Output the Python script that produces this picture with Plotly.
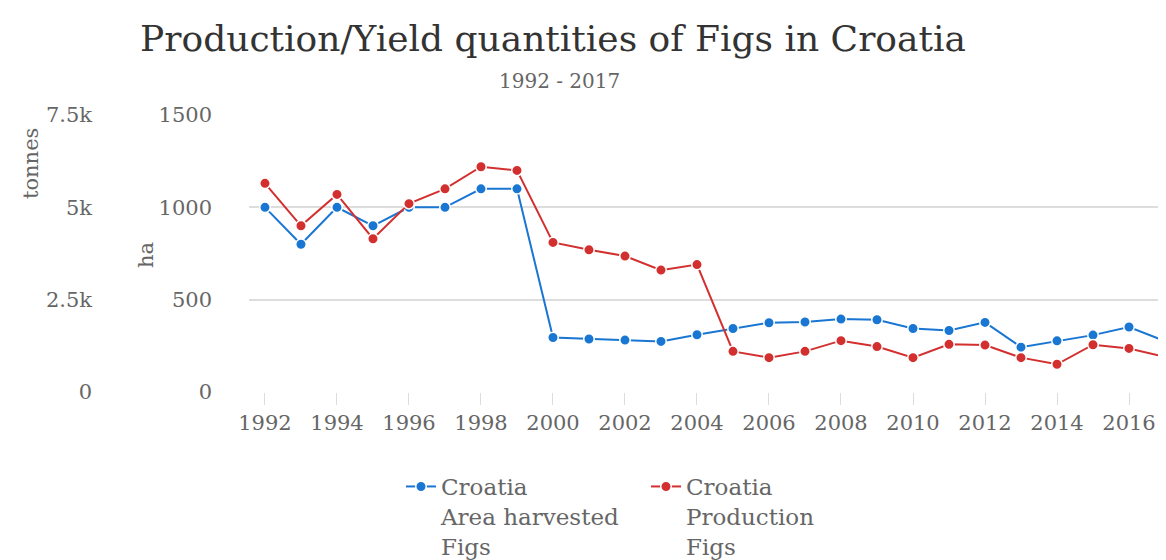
import plotly.graph_objects as go

years = list(range(1992, 2018))
area_harvested_ha = [1000, 800, 1000, 900, 1000, 1000, 1100, 1100, 295, 287, 281, 274, 310, 344,
                     375, 379, 395, 391, 344, 333, 377, 243, 277, 308, 352, 276]
production_t = [5650, 4500, 5350, 4150, 5100, 5500, 6100, 6000, 4050, 3850, 3680, 3300, 3450, 1100,
                930, 1100, 1390, 1230, 930, 1290, 1270, 930, 750, 1280, 1180, 950]

blue = "#1976D2"
red = "#D32F2F"
font_fam = "DejaVu Serif"
W, H = 1166, 560
grey = "#666666"

fig = go.Figure()
fig.add_trace(go.Scatter(
    x=years, y=area_harvested_ha, name="Croatia<br>Area harvested<br>Figs",
    mode="lines+markers", yaxis="y", cliponaxis=False,
    line=dict(color=blue, width=2),
    marker=dict(color=blue, size=10.5, line=dict(color="white", width=1.5)),
))
fig.add_trace(go.Scatter(
    x=years, y=production_t, name="Croatia<br>Production<br>Figs",
    mode="lines+markers", yaxis="y2", cliponaxis=False,
    line=dict(color=red, width=2),
    marker=dict(color=red, size=10.5, line=dict(color="white", width=1.5)),
))

fig.update_layout(
    width=W, height=H,
    margin=dict(l=0, r=0, t=107, b=176, autoexpand=False),
    paper_bgcolor="white", plot_bgcolor="white",
    font=dict(family=font_fam, color=grey, size=21),
    title=dict(text="Production/Yield quantities of Figs in Croatia",
               font=dict(family=font_fam, size=36, color="#333333"),
               x=545 / W, xanchor="center", xref="container",
               y=1 - 30 / H, yanchor="middle", yref="container", automargin=False),
    annotations=[
        dict(text="1992 - 2017", xref="paper", yref="paper",
             x=551 / W, y=1 + (107 - 73) / 277, showarrow=False,
             font=dict(family=font_fam, size=20, color=grey),
             xanchor="center", yanchor="middle"),
        dict(text="tonnes", xref="paper", yref="paper", textangle=-90,
             x=23 / W, y=(384 - 156) / 277, showarrow=False,
             font=dict(family=font_fam, size=21, color=grey),
             xanchor="center", yanchor="middle"),
        dict(text="ha", xref="paper", yref="paper", textangle=-90,
             x=138 / W, y=(384 - 247) / 277, showarrow=False,
             font=dict(family=font_fam, size=21, color=grey),
             xanchor="center", yanchor="middle"),
    ],
    xaxis=dict(domain=[241 / W, 1], range=[1991.556, 2017.25], dtick=2, tick0=1992,
               showgrid=False, zeroline=False, showline=False, automargin=False,
               ticks="outside", ticklen=12, tickcolor="#dddddd", tickwidth=1,
               tickfont=dict(size=21, color=grey)),
    yaxis=dict(range=[0, 1500], tickvals=[0, 500, 1000, 1500], anchor="free",
               position=204 / W, side="left", automargin=False,
               showgrid=True, gridcolor="#dddddd", gridwidth=1.5, zeroline=False,
               tickfont=dict(size=21, color=grey)),
    yaxis2=dict(range=[0, 7500], tickvals=[0, 2500, 5000, 7500],
                ticktext=["0", "2.5k", "5k", "7.5k"], overlaying="y", anchor="free",
                position=84 / W, side="left", showgrid=False, zeroline=False, automargin=False,
                tickfont=dict(size=21, color=grey)),
    legend=dict(orientation="h", xref="container", yref="container",
                x=393 / W, y=1 - 457 / H, xanchor="left", yanchor="top", valign="top",
                entrywidth=200, entrywidthmode="pixels",
                font=dict(size=23, color=grey), traceorder="normal"),
    showlegend=True,
)

fig.write_html("out.html")
